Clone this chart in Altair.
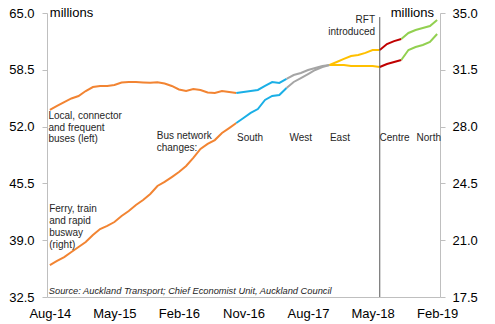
import altair as alt
import pandas as pd

# ---------------- data ----------------
months = list(range(55))  # month index, 0 = Aug-14 ... 54 = Feb-19
tick_months = [0, 9, 18, 27, 36, 45, 54]
tick_labels = ["Aug-14", "May-15", "Feb-16", "Nov-16", "Aug-17", "May-18", "Feb-19"]

# Local, connector and frequent buses (left axis, millions, rolling annual)
bus_values = [
    53.90, 54.36, 54.81, 55.22, 55.50, 56.07, 56.53, 56.65, 56.65, 56.76,
    57.05, 57.10, 57.10, 57.05, 57.01, 57.08, 56.93, 56.65, 56.25, 56.07,
    56.30, 56.19, 55.90, 55.85, 56.07, 55.96, 55.84, 55.96, 56.07, 56.19,
    56.65, 57.10, 56.99, 57.45, 57.90, 58.13, 58.48, 58.71, 58.93, 59.05,
    59.05, 59.05, 58.93, 58.93, 58.93, 58.93, 58.82, 59.16, 59.39, 59.62,
    60.77, 61.11, 61.34, 61.68, 62.60,
]
# Ferry, train and rapid busway (right axis, millions)
rail_values = [
    19.47, 19.72, 19.96, 20.27, 20.58, 20.89, 21.32, 21.69, 21.88, 22.12,
    22.49, 22.80, 23.17, 23.48, 23.85, 24.34, 24.59, 24.89, 25.20, 25.57,
    26.07, 26.62, 26.93, 27.17, 27.61, 27.91, 28.22, 28.53, 28.84, 29.08,
    29.64, 29.89, 29.95, 30.38, 30.75, 30.99, 31.24, 31.49, 31.67, 31.80,
    31.98, 32.17, 32.35, 32.41, 32.54, 32.72, 32.72, 33.09, 33.27, 33.40,
    33.77, 33.95, 34.08, 34.20, 34.57,
]

periods = ["Before", "South", "West", "East", "Centre", "North"]
period_starts = [0, 26, 33, 39, 46, 49]
period_colors = ["#F28432", "#1AAFE6", "#A5A5A5", "#FFC000", "#C00000", "#92D050"]

left_ticks = [32.5, 39.0, 45.5, 52.0, 58.5, 65.0]
right_ticks = [17.5, 21.0, 24.5, 28.0, 31.5, 35.0]

rft_month = 46
rft_top = 34.75

# annotations: text, month, value, align, baseline, font size, style, line height
left_notes = [
    ("millions", 0.0, 64.54, "left", "alphabetic", 13, "normal", 13),
    ("Local, connector\nand frequent\nbuses (left)", -0.2, 53.73, "left", "top", 10, "normal", 11.5),
    ("Bus network\nchanges:", 14.9, 51.51, "left", "top", 10, "normal", 12),
    ("South", 26.1, 51.24, "left", "top", 10, "normal", 12),
    ("West", 33.4, 51.24, "left", "top", 10, "normal", 12),
    ("East", 39.05, 51.24, "left", "top", 10, "normal", 12),
    ("Centre", 45.97, 51.24, "left", "top", 10, "normal", 12),
    ("North", 51.13, 51.24, "left", "top", 10, "normal", 12),
    ("Source: Auckland Transport; Chief Economist Unit, Auckland Council",
     -0.15, 32.84, "left", "alphabetic", 9.3, "italic", 10),
]
right_notes = [
    ("Ferry, train\nand rapid\nbusway\n(right)", -0.1, 23.22, "left", "top", 10, "normal", 12),
    ("RFT\nintroduced", 45.34, 34.88, "right", "top", 10, "normal", 12),
    ("millions", 53.57, 34.75, "right", "alphabetic", 13, "normal", 13),
]


def segments(values):
    rows = []
    for i, p in enumerate(periods):
        s = period_starts[i]
        e = period_starts[i + 1] if i + 1 < len(periods) else months[-1]
        for m in months[s:e + 1]:
            rows.append({"m": m, "v": values[m], "period": p})
    return pd.DataFrame(rows)


bus_df = segments(bus_values)
rail_df = segments(rail_values)

AXIS_GREY = "#BFBFBF"
FONT = "Liberation Sans"

label_expr = "[" + ",".join("'%s'" % t for t in tick_labels) + "][round(datum.value / 9)]"

x_enc = alt.X("m:Q", scale=alt.Scale(domain=[-0.4, 54.4], nice=False, zero=False),
              axis=alt.Axis(values=tick_months, labelExpr=label_expr, ticks=False, grid=False,
                            title=None, domainColor=AXIS_GREY, labelFontSize=13,
                            labelColor="#000000", labelPadding=10, labelFont=FONT,
                            labelFlush=False))

y_left = alt.Y("v:Q", scale=alt.Scale(domain=[32.5, 65.0], nice=False, zero=False),
               axis=alt.Axis(values=left_ticks, format=".1f", orient="left", grid=False,
                             title=None, domainColor=AXIS_GREY, tickColor=AXIS_GREY,
                             tickSize=5, labelPadding=8, labelFontSize=13,
                             labelColor="#000000", labelFont=FONT))

y_right = alt.Y("v:Q", scale=alt.Scale(domain=[17.5, 35.0], nice=False, zero=False),
                axis=alt.Axis(values=right_ticks, format=".1f", orient="right", grid=False,
                              title=None, domainColor=AXIS_GREY, tickColor=AXIS_GREY,
                              tickSize=5, labelPadding=7, labelFontSize=13,
                              labelColor="#000000", labelFont=FONT))

color_enc = alt.Color("period:N", scale=alt.Scale(domain=periods, range=period_colors), legend=None)

bus_line = alt.Chart(bus_df).mark_line(strokeWidth=2).encode(color=color_enc)
rail_line = alt.Chart(rail_df).mark_line(strokeWidth=2).encode(color=color_enc)

rule_df = pd.DataFrame({"m": [rft_month], "v": [right_ticks[0]], "v2": [rft_top]})
rft_rule = alt.Chart(rule_df).mark_rule(color="#595959", strokeWidth=1).encode(y2="v2:Q")


def note_layers(notes):
    out = []
    for text, m, v, align, baseline, size, style, lh in notes:
        df = pd.DataFrame({"m": [m], "v": [v], "label": [text]})
        out.append(alt.Chart(df).mark_text(
            align=align, baseline=baseline, fontSize=size, fontStyle=style,
            lineBreak="\n", lineHeight=lh, font=FONT,
            color="#000000" if size >= 13 else "#262626",
        ).encode(text="label:N"))
    return out


left = alt.layer(bus_line, *note_layers(left_notes)).encode(x=x_enc, y=y_left)
right = alt.layer(rail_line, rft_rule, *note_layers(right_notes)).encode(x=x_enc, y=y_right)

chart = alt.layer(left, right).resolve_scale(y="independent").properties(
    width=393, height=284,
    padding={"left": 47, "top": 13, "right": 55, "bottom": 27},
    autosize=alt.AutoSizeParams(type="none"),
).configure(font=FONT).configure_view(stroke=None)

chart.save("out.html", embed_options={"renderer": "svg", "actions": False})
